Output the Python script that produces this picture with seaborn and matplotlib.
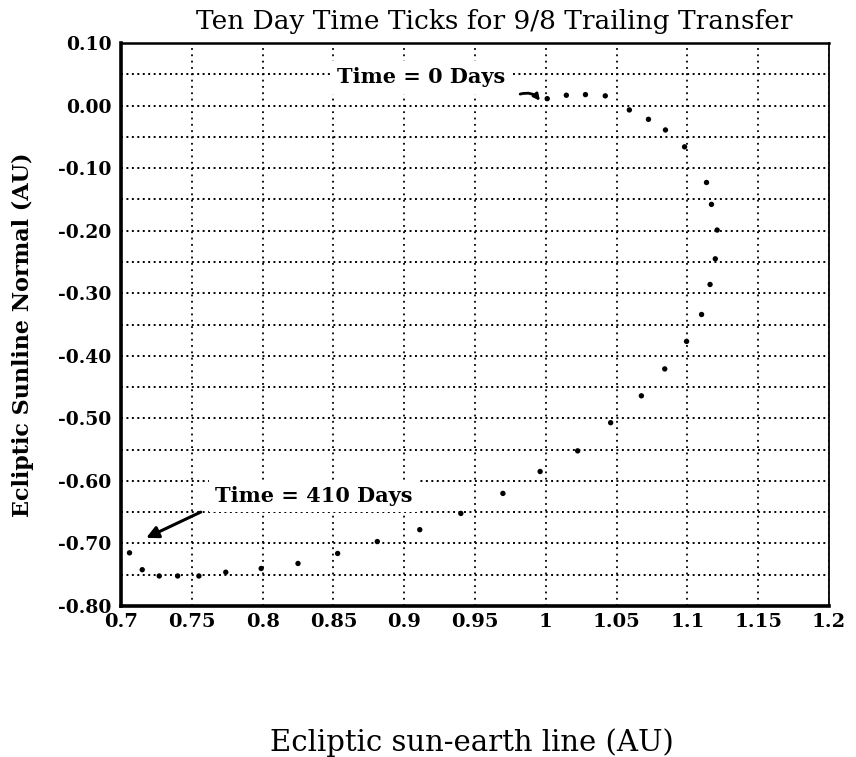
import numpy as np
import pandas as pd
import matplotlib
matplotlib.use("Agg")
import matplotlib.pyplot as plt
from matplotlib.ticker import MultipleLocator, FixedLocator
import seaborn as sns

# ---- data (ten-day time ticks) ----
x_au = [1.001, 1.0145, 1.028, 1.042, 1.059, 1.0725, 1.0845, 1.098, 1.1135,
        1.117, 1.121, 1.1197, 1.116, 1.110, 1.0994, 1.084, 1.0675, 1.0458,
        1.0225, 0.996, 0.9697, 0.940, 0.911, 0.881, 0.853, 0.825, 0.799,
        0.774, 0.755, 0.740, 0.727, 0.715, 0.706]
y_au = [0.011, 0.0165, 0.0175, 0.0155, -0.007, -0.022, -0.039, -0.066, -0.123,
        -0.158, -0.199, -0.245, -0.286, -0.334, -0.377, -0.421, -0.464, -0.507,
        -0.552, -0.585, -0.620, -0.652, -0.678, -0.697, -0.716, -0.732, -0.740,
        -0.746, -0.752, -0.752, -0.752, -0.742, -0.715]

x_ticks = [0.7, 0.75, 0.8, 0.85, 0.9, 0.95, 1.0, 1.05, 1.1, 1.15, 1.2]
x_tick_labels = ["0.7", "0.75", "0.8", "0.85", "0.9", "0.95", "1", "1.05",
                 "1.1", "1.15", "1.2"]
y_ticks = [0.1, 0.0, -0.1, -0.2, -0.3, -0.4, -0.5, -0.6, -0.7, -0.8]
y_tick_labels = ["0.10", "0.00", "-0.10", "-0.20", "-0.30", "-0.40", "-0.50",
                 "-0.60", "-0.70", "-0.80"]

title = "Ten Day Time Ticks for 9/8 Trailing Transfer"
x_label = "Ecliptic sun-earth line (AU)"
y_label = "Ecliptic Sunline Normal (AU)"
start_note = "Time = 0 Days"
end_note = "Time = 410 Days"

sns.set_theme(style="white")
plt.rcParams["font.family"] = ["DejaVu Serif", "Liberation Serif"]
plt.rcParams["text.color"] = "black"
plt.rcParams["axes.labelcolor"] = "black"
plt.rcParams["xtick.color"] = "black"
plt.rcParams["ytick.color"] = "black"

W, H = 856, 757
fig = plt.figure(figsize=(W / 100, H / 100), dpi=100)
fig.patch.set_facecolor("white")
L, R, T, B = 121, 829, 43, 606
ax = fig.add_axes([L / W, 1 - B / H, (R - L) / W, (B - T) / H])
ax.set_facecolor("white")

df = pd.DataFrame({"x": x_au, "y": y_au})
sns.scatterplot(data=df, x="x", y="y", ax=ax, color="black", s=15,
                edgecolor="none", zorder=4, legend=False)

ax.set_xlim(0.7, 1.2)
ax.set_ylim(-0.8, 0.1)
ax.xaxis.set_major_locator(FixedLocator(x_ticks))
ax.set_xticklabels(x_tick_labels)
ax.yaxis.set_major_locator(FixedLocator(y_ticks))
ax.set_yticklabels(y_tick_labels)
ax.yaxis.set_minor_locator(MultipleLocator(0.05))

ax.grid(True, which="major", axis="x", color="black", linestyle=(0, (1, 2.5)),
        linewidth=1.3)
ax.grid(True, which="both", axis="y", color="black", linestyle=(0, (1, 1.8)),
        linewidth=1.4)
ax.set_axisbelow(True)

ax.tick_params(axis="both", which="both", length=0, colors="black")
ax.tick_params(axis="x", pad=5)
ax.tick_params(axis="y", pad=7)
for lab in ax.get_xticklabels():
    lab.set_fontsize(14)
    lab.set_fontweight("bold")
for lab in ax.get_yticklabels():
    lab.set_fontsize(13.5)
    lab.set_fontweight("bold")

for side, lw in {"left": 2.6, "bottom": 2.6, "top": 1.8, "right": 1.3}.items():
    ax.spines[side].set_visible(True)
    ax.spines[side].set_color("black")
    ax.spines[side].set_linewidth(lw)

ax.set_xlabel("")
ax.set_ylabel("")

fig.text(494 / W, 1 - 22 / H, title, ha="center", va="center", fontsize=19,
         color="black")
fig.text(472 / W, 1 - 743 / H, x_label, ha="center", va="center", fontsize=21,
         color="black")
fig.text(23 / W, 1 - 335 / H, y_label, ha="center", va="center", rotation=90,
         fontsize=16, fontweight="bold", color="black")

box = dict(boxstyle="square,pad=0.3", facecolor="white", edgecolor="none")
ax.text(0.912, 0.045, start_note, ha="center", va="center", fontsize=15,
        fontweight="bold", bbox=box, zorder=5, color="black")
ax.annotate("", xy=(0.997, 0.004), xytext=(0.980, 0.017),
            arrowprops=dict(arrowstyle="-|>", color="black", lw=2,
                            mutation_scale=9,
                            connectionstyle="arc3,rad=-0.4"), zorder=6)

ax.text(0.836, -0.624, end_note, ha="center", va="center", fontsize=15,
        fontweight="bold", bbox=box, zorder=5, color="black")
ax.annotate("", xy=(0.716, -0.693), xytext=(0.758, -0.648),
            arrowprops=dict(arrowstyle="-|>", color="black", lw=2.2,
                            mutation_scale=18), zorder=6)

fig.savefig("out.png", dpi=100, facecolor="white")
